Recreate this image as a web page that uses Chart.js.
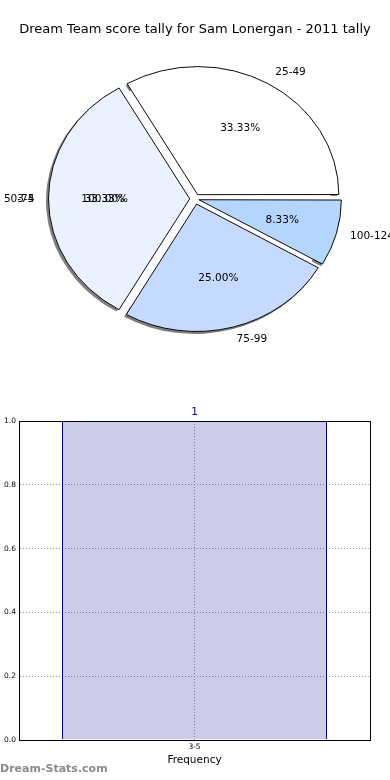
<!DOCTYPE html>
<html>
<head>
<meta charset="utf-8">
<script src="https://cdn.jsdelivr.net/npm/chart.js@4/dist/chart.umd.min.js"></script>
<style>
    body { margin: 0; background: #fff; width: 390px; height: 780px; position: relative; overflow: hidden; }
    #pieBox { position: absolute; left: 0; top: 0; width: 390px; height: 380px; }
    #barBox { position: absolute; left: 0; top: 380px; width: 390px; height: 400px; }
    #mark { position: absolute; left: 0; top: 762px; font: bold 11px "DejaVu Sans"; color: #8a8a8a; }
</style>
</head>
<body>
<div id="pieBox"><canvas id="ChartScoreTally"></canvas></div>
<div id="barBox"><canvas id="ChartFrequency"></canvas></div>
<div id="mark">Dream-Stats.com</div>
<script>
// pie slices, listed clockwise from 3 o'clock
var pieLabels = ['100-124', '75-99', '50-74', '25-49'];
var pieCounts = [1, 3, 4, 4];
var pieColors = ['#b4d5fe', '#c6d9fe', '#ebf1fe', '#ffffff'];

// histogram below
var barLabels = ['3-5'];
var barValues = [1];
var yTicks = [0, 0.2, 0.4, 0.6, 0.8, 1.0];

var FONT = '"DejaVu Sans", sans-serif';
var SQUASH = 0.907;   // pie is drawn as an ellipse
var EXPLODE = 6;      // px each slice is pushed out

function Sum(arr) {
    var total = 0;
    var index = 0;
    while (index < arr.length) {
        total += arr[index];
        index++;
    }
    return total;
}

function Pct(v, total) {
    return (v / total * 100).toFixed(2) + '%';
}

function Squash(ctx, cy) {
    ctx.translate(0, cy);
    ctx.scale(1, SQUASH);
    ctx.translate(0, -cy);
}

var ellipsePlugin = {
    id: 'ellipse',
    beforeDatasetsDraw: function (chart) {
        var arcs = chart.getDatasetMeta(0).data;
        var ctx = chart.ctx;
        var cx = arcs[0].x, cy = arcs[0].y, R = arcs[0].outerRadius;

        // drop shadow, only shows outside the pie
        ctx.save();
        Squash(ctx, cy);
        ctx.beginPath();
        ctx.rect(0, 0, chart.width, chart.height / SQUASH + cy);
        ctx.arc(cx, cy, R - 5, 0, Math.PI * 2, true);
        ctx.clip('evenodd');
        ctx.translate(-2, 2 / SQUASH);
        ctx.fillStyle = 'rgba(0,0,0,0.5)';
        arcs.forEach(function (arc) {
            var p = arc.getProps(['startAngle', 'endAngle'], true);
            var mid = (p.startAngle + p.endAngle) / 2;
            var ax = cx + EXPLODE * Math.cos(mid), ay = cy + EXPLODE * Math.sin(mid);
            ctx.beginPath();
            ctx.moveTo(ax, ay);
            ctx.arc(ax, ay, R + 0.5, p.startAngle, p.endAngle);
            ctx.closePath();
            ctx.fill();
        });
        ctx.restore();

        ctx.save();
        Squash(ctx, cy);
    },
    afterDatasetsDraw: function (chart) {
        var ctx = chart.ctx;
        ctx.restore();

        var meta = chart.getDatasetMeta(0);
        var total = Sum(pieCounts);
        ctx.save();
        ctx.font = '10.5px ' + FONT;
        ctx.fillStyle = '#000';
        ctx.textBaseline = 'middle';

        function put(cx, cy, R, ang, name, pct) {
            var dx = Math.cos(ang), dy = Math.sin(ang);
            ctx.textAlign = dx > 0 ? 'left' : 'right';
            ctx.fillText(name, cx + (EXPLODE + 1.1 * R) * dx, cy + (EXPLODE + 1.1 * R) * dy * SQUASH);
            ctx.textAlign = 'center';
            ctx.fillText(pct, cx + (EXPLODE + 0.6 * R) * dx, cy + (EXPLODE + 0.6 * R) * dy * SQUASH);
        }

        meta.data.forEach(function (arc, i) {
            var p = arc.getProps(['x', 'y', 'startAngle', 'endAngle', 'outerRadius'], true);
            put(p.x, p.y, p.outerRadius, (p.startAngle + p.endAngle) / 2, pieLabels[i], Pct(pieCounts[i], total));
        });

        // the 3-5 bucket ends up on top of 50-74, as in the original
        var a0 = meta.data[0];
        put(a0.x, a0.y, a0.outerRadius, Math.PI, barLabels[0], Pct(barValues[0], Sum(barValues)));
        ctx.restore();
    }
};

new Chart(document.getElementById('ChartScoreTally'), {
    type: 'pie',
    data: {
        labels: pieLabels,
        datasets: [{
            data: pieCounts,
            backgroundColor: pieColors,
            borderColor: '#000',
            borderWidth: 1,
            borderJoinStyle: 'miter',
            radius: 140.5,
            clip: false,
            offset: function (c) {
                var circ = c.dataset.data[c.dataIndex] / Sum(pieCounts) * 2 * Math.PI;
                var fix = 1 - Math.sin(Math.min(Math.PI, circ));
                return 4 * EXPLODE / (1 + fix);
            }
        }]
    },
    options: {
        responsive: true,
        maintainAspectRatio: false,
        animation: false,
        rotation: 90,
        layout: { padding: { bottom: 30 } },
        plugins: {
            legend: { display: false },
            tooltip: { enabled: false },
            title: {
                display: true,
                text: 'Dream Team score tally for Sam Lonergan - 2011 tally',
                color: '#000',
                font: { family: FONT, size: 13, weight: 'normal' },
                padding: { top: 22, bottom: 10 }
            }
        }
    },
    plugins: [ellipsePlugin]
});

var framePlugin = {
    id: 'frame',
    afterDatasetsDraw: function (chart) {
        var ctx = chart.ctx;
        var bar = chart.getDatasetMeta(0).data[0];
        ctx.save();
        ctx.font = '10.5px ' + FONT;
        ctx.fillStyle = '#00008b';
        ctx.textAlign = 'center';
        ctx.textBaseline = 'bottom';
        ctx.fillText(String(barValues[0]), bar.x, bar.y - 3);
        ctx.restore();
    },
    afterDraw: function (chart) {
        var a = chart.chartArea;
        var ctx = chart.ctx;
        ctx.save();
        ctx.strokeStyle = '#000';
        ctx.lineWidth = 1;
        ctx.strokeRect(Math.round(a.left) + 0.5, Math.round(a.top) + 0.5, Math.round(a.right - a.left), Math.round(a.bottom - a.top));
        ctx.restore();
    }
};

new Chart(document.getElementById('ChartFrequency'), {
    type: 'bar',
    data: {
        labels: barLabels,
        datasets: [{
            data: barValues,
            // translucent so the dotted grid reads through the bar
            backgroundColor: 'rgba(0,0,130,0.2)',
            borderColor: '#00008b',
            borderWidth: 1,
            barPercentage: 0.755,
            categoryPercentage: 1.0
        }]
    },
    options: {
        responsive: true,
        maintainAspectRatio: false,
        animation: false,
        layout: { padding: { top: 41, right: 20, left: 0, bottom: 0 } },
        plugins: {
            legend: { display: false },
            tooltip: { enabled: false }
        },
        scales: {
            x: {
                grid: { offset: false, color: '#9a9a9a', drawTicks: false },
                border: { color: '#000', dash: [1, 2] },
                ticks: { color: '#000', font: { family: FONT, size: 7.5 }, padding: 3, maxRotation: 0 },
                title: { display: true, text: 'Frequency', color: '#000', font: { family: FONT, size: 10.5 }, padding: { top: 0, bottom: 13.5 } },
                afterFit: function (scale) { scale.height = 40; }
            },
            y: {
                min: 0,
                max: 1,
                afterBuildTicks: function (scale) {
                    scale.ticks = yTicks.map(function (v) { return { value: v }; });
                },
                grid: { color: '#9a9a9a', drawTicks: false },
                border: { color: '#000', dash: [1, 2] },
                ticks: {
                    color: '#000',
                    font: { family: FONT, size: 7.5 },
                    padding: 3,
                    callback: function (v) { return Number(v).toFixed(1); }
                },
                afterFit: function (scale) { scale.width = 19; }
            }
        }
    },
    plugins: [framePlugin]
});
</script>
</body>
</html>
